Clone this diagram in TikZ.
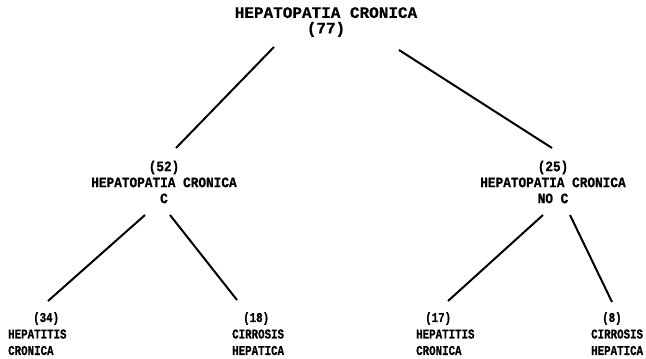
\documentclass[tikz,border=0pt]{standalone}
\usepackage{fontspec}
\usetikzlibrary{calc}
\newfontfamily\titlefont[FakeBold=0.6]{Liberation Mono}
\newfontfamily\labelfont[FakeStretch=0.88,FakeBold=0.8]{Liberation Mono}
\newfontfamily\leaffont[FakeStretch=0.8,FakeBold=0.8]{Liberation Mono}

\begin{document}
\begin{tikzpicture}[
	x=1pt, y=-1pt,
	% Styles for the tree
	roottext/.style={font=\titlefont\bfseries\fontsize{16}{15.5}\selectfont, align=center, inner sep=0pt},
	midtext/.style={font=\labelfont\bfseries\fontsize{14.5}{16}\selectfont, align=center, inner sep=0pt},
	leaftext/.style={font=\leaffont\bfseries\fontsize{13.5}{16.5}\selectfont, align=left, inner sep=0pt, anchor=north west},
	branch/.style={line width=2pt, black}
	]
	\useasboundingbox (0,0) rectangle (646,359);
	
	% ==========================================
	% ROOT
	% ==========================================
	\node[roottext] (root) at (326,22) {HEPATOPATIA CRONICA\\(77)};
	
	% ==========================================
	% SECOND LEVEL
	% ==========================================
	\node[midtext] (hcc) at (164,182) {(52)\\HEPATOPATIA CRONICA\\C};
	\node[midtext] (hnc) at (553,182) {(25)\\HEPATOPATIA CRONICA\\NO C};
	
	% ==========================================
	% LEAVES
	% ==========================================
	\node[leaftext] (hc1) at (8,312) {\hspace*{25pt}(34)\\HEPATITIS\\CRONICA};
	\node[leaftext] (ch1) at (232,312) {\hspace*{11pt}(18)\\CIRROSIS\\HEPATICA};
	\node[leaftext] (hc2) at (416,312) {\hspace*{9pt}(17)\\HEPATITIS\\CRONICA};
	\node[leaftext] (ch2) at (591,312) {\hspace*{11pt}(8)\\CIRROSIS\\HEPATICA};
	
	% Branches
	\draw[branch] ($(root.center)+(-52,25)$) -- ($(hcc.center)+(12,-34)$);
	\draw[branch] ($(root.center)+(73,28)$) -- ($(hnc.center)+(-1,-34)$);
	
	\draw[branch] ($(hcc.center)+(-19,33)$) -- ($(hc1.north west)+(40,-11)$);
	\draw[branch] ($(hcc.center)+(6,33)$) -- ($(ch1.north west)+(5,-12)$);
	
	\draw[branch] ($(hnc.center)+(-10,33)$) -- ($(hc2.north west)+(32,-11)$);
	\draw[branch] ($(hnc.center)+(17,33)$) -- ($(ch2.north west)+(21,-10)$);
	
\end{tikzpicture}
\end{document}
